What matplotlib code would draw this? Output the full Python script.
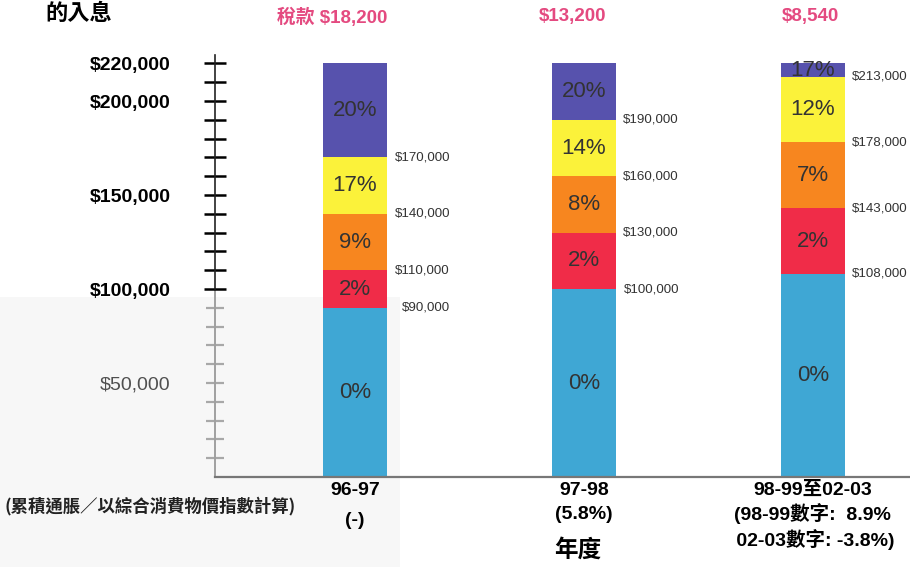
import matplotlib
matplotlib.use("Agg")
import matplotlib.pyplot as plt
import matplotlib.transforms as mtransforms
from matplotlib.patches import Rectangle
import numpy as np

# data
years = ["96-97", "97-98", "98-99至02-03"]
year_notes = ["(-)", "(5.8%)", "(98-99數字:  8.9%\n 02-03數字: -3.8%)"]
tax = ["稅款 $18,200", "$13,200", "$8,540"]

# income bands (segment heights) for each year
band_0 = [90000, 100000, 108000]
band_2 = [20000, 30000, 35000]
band_mid = [30000, 30000, 35000]
band_high = [30000, 30000, 35000]
band_top = [50000, 30000, 7000]

rate_0 = ["0%", "0%", "0%"]
rate_2 = ["2%", "2%", "2%"]
rate_mid = ["9%", "8%", "7%"]
rate_high = ["17%", "14%", "12%"]
rate_top = ["20%", "20%", "17%"]

bands = [band_0, band_2, band_mid, band_high, band_top]
rates = [rate_0, rate_2, rate_mid, rate_high, rate_top]
colors = ["#3fa7d4", "#f02c48", "#f7861f", "#fbf23a", "#5752ad"]

ytick_vals = [100000, 150000, 200000, 220000]
ytick_labels = ["$100,000", "$150,000", "$200,000", "$220,000"]
ytick_low = [50000]
ytick_low_labels = ["$50,000"]

LAT = ["Liberation Sans", "Noto Sans CJK TC"]
CJK = ["Noto Sans CJK TC", "Liberation Sans"]

YMAX = 224500
XLIM = (-0.611, 2.424)

fig = plt.figure(figsize=(9.1, 5.67), dpi=100)
fig.patches.append(Rectangle((0, 0), 400 / 910, 1 - 297 / 567, transform=fig.transFigure,
                             facecolor="#f7f7f7", edgecolor="none", zorder=-10))
pos = [215 / 910, 1 - 477 / 567, 1 - 215 / 910, (477 - 55) / 567]
# second axis (behind) only for the faded lower part of the y scale
ax2 = fig.add_axes(pos)
ax2.patch.set_alpha(0)
ax = fig.add_axes(pos)
ax.patch.set_alpha(0)

x = np.arange(len(years))
width = 0.28
bottom = np.zeros(len(years))
for vals, labs, col in zip(bands, rates, colors):
    vals = np.array(vals, dtype=float)
    ax.bar(x, vals, width, bottom=bottom, color=col, edgecolor="none", zorder=2)
    for i in range(len(x)):
        ax.text(x[i], bottom[i] + vals[i] / 2, labs[i], ha="center", va="center",
                fontsize=16, family=LAT, color="#333333", zorder=3)
    bottom = bottom + vals

# boundary amounts to the right of each bar
cum = np.cumsum(np.array(bands, dtype=float), axis=0)
for level in cum[:-1]:
    for i in range(len(x)):
        ax.annotate(f"${level[i]:,.0f}", xy=(x[i] + width / 2, level[i]),
                    xytext=(63, 0), textcoords="offset pixels", ha="right", va="center",
                    fontsize=9.6, family=LAT, color="#333333")

# tax headings at the top
tr = mtransforms.blended_transform_factory(ax.transData, fig.transFigure)
head_shift = [-0.1, -0.05, -0.01]
for i in range(len(x)):
    ax.text(x[i] + head_shift[i], 1 - 17 / 567, tax[i], transform=tr, ha="center", va="center",
            fontsize=13.5, family=LAT, color="#e44a80", fontweight="bold")

ax.set_xlim(*XLIM)
ax.set_ylim(0, YMAX)
ax2.set_xlim(*XLIM)
ax2.set_ylim(0, YMAX)

# year labels under the bars
ax.set_xticks(x)
ax.tick_params(axis="x", length=0, labelbottom=False)
spacing = [2.0, 1.55, 1.25]
for i in range(len(x)):
    ax.annotate(f"{years[i]}\n{year_notes[i]}", xy=(x[i], 0), xycoords=("data", "axes fraction"),
                xytext=(0, -5), textcoords="offset pixels", ha="center", va="top",
                multialignment="center", linespacing=spacing[i],
                fontsize=14, fontweight="bold", family=LAT)

ax.set_yticks(ytick_vals, ytick_labels)
ax.set_yticks(np.arange(110000, 220001, 10000), minor=True)
ax.tick_params(axis="y", which="both", direction="inout", length=16, width=1.8, pad=24)
for lab in ax.get_yticklabels():
    lab.set_family(LAT)
    lab.set_fontsize(14)
    lab.set_fontweight("bold")

ax2.set_xticks([])
ax2.set_yticks(ytick_low, ytick_low_labels)
ax2.set_yticks(np.arange(10000, 100000, 10000), minor=True)
ax2.tick_params(axis="y", which="both", direction="inout", length=13, width=1.6,
                color="#a8a8a8", pad=26)
for lab in ax2.get_yticklabels():
    lab.set_family(LAT)
    lab.set_fontsize(14)
    lab.set_color("#505050")

for s in ["top", "right"]:
    ax.spines[s].set_visible(False)
for s in ["top", "right", "bottom"]:
    ax2.spines[s].set_visible(False)
ax.spines["left"].set_bounds(100000, YMAX)
ax.spines["left"].set_color("#222222")
ax.spines["left"].set_linewidth(1.2)
ax2.spines["left"].set_bounds(0, 100000)
ax2.spines["left"].set_color("#a0a0a0")
ax2.spines["left"].set_linewidth(1.4)
ax.spines["bottom"].set_color("#777777")
ax.spines["bottom"].set_linewidth(1.6)

fig.text(45 / 910, 1 - 13 / 567, "的入息", ha="left", va="center", fontsize=16,
         fontweight="bold", family=CJK)
fig.text(578 / 910, 1 - 550 / 567, "年度", ha="center", va="center", fontsize=17,
         fontweight="bold", family=CJK)
fig.text(5 / 910, 1 - 506 / 567, "(累積通脹／以綜合消費物價指數計算)", ha="left", va="center",
         fontsize=12.5, fontweight="bold", family=CJK, color="#222222")

fig.savefig("out.png", dpi=100)
